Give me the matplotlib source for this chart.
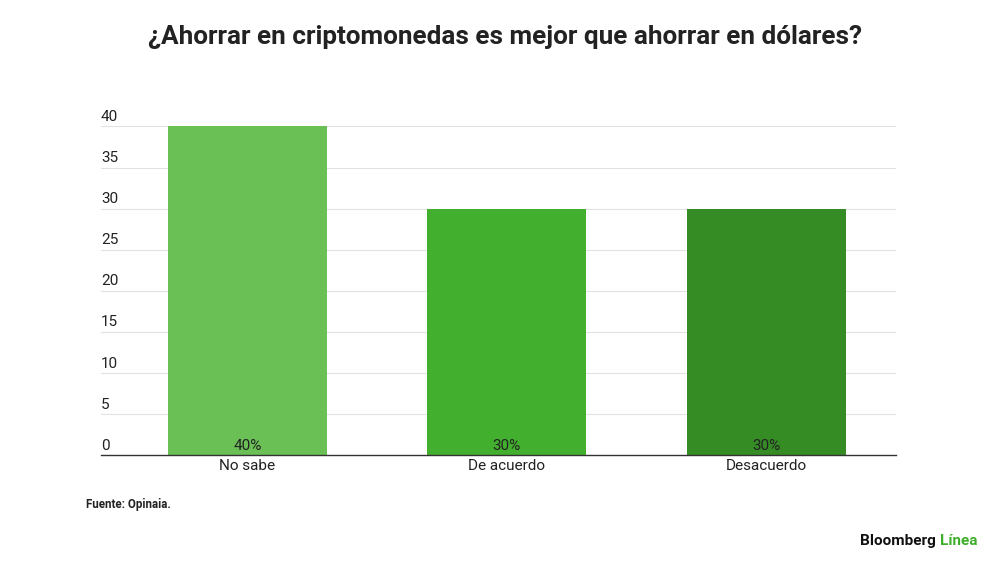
import matplotlib.pyplot as plt
import matplotlib.transforms as mtransforms

plt.rcParams['font.family'] = ['Roboto', 'DejaVu Sans']

categorias = ['No sabe', 'De acuerdo', 'Desacuerdo']
valores = [40, 30, 30]
etiquetas = ['40%', '30%', '30%']
colores = ['#6abf55', '#42b02e', '#358c25']
yticks = [0, 5, 10, 15, 20, 25, 30, 35, 40]

fig = plt.figure(figsize=(10, 5.62), dpi=100)
ax = fig.add_axes([0.101, 0.19, 0.795, 0.585])

x = list(range(len(categorias)))
ax.bar(x, valores, width=0.613, color=colores, zorder=2)
ax.set_xlim(-0.565, 2.5)
ax.set_ylim(0, 40)

for yt in yticks[1:]:
    ax.axhline(yt, color='#e2e2e2', lw=0.8, zorder=1)
trans = mtransforms.blended_transform_factory(ax.transAxes, ax.transData)
for yt in yticks:
    ax.text(0.0, yt + 0.3, str(yt), transform=trans, ha='left', va='bottom',
            fontsize=11, color='#222222')

for xi, lab in zip(x, etiquetas):
    ax.text(xi, 0.25, lab, ha='center', va='bottom', fontsize=11, color='#222222', zorder=3)

ax.set_xticks(x)
ax.set_xticklabels(categorias, fontsize=11, color='#222222')
ax.tick_params(axis='x', length=0, pad=3)
ax.set_yticks([])
for s in ['top', 'right', 'left']:
    ax.spines[s].set_visible(False)
ax.spines['bottom'].set_color('#333333')
ax.spines['bottom'].set_linewidth(1.0)

fig.text(0.505, 0.935, '¿Ahorrar en criptomonedas es mejor que ahorrar en dólares?',
         ha='center', va='center', fontsize=18.8, fontweight='bold', color='#222222')
fig.text(0.086, 0.103, 'Fuente: Opinaia.', ha='left', va='center', fontsize=8.3,
         fontweight='bold', color='#222222')
fig.text(0.936, 0.037, 'Bloomberg', ha='right', va='center', fontsize=11,
         fontweight='bold', color='#111111')
fig.text(0.940, 0.037, 'Línea', ha='left', va='center', fontsize=11,
         fontweight='bold', color='#3fae2a')

fig.savefig('out.png', dpi=100)
